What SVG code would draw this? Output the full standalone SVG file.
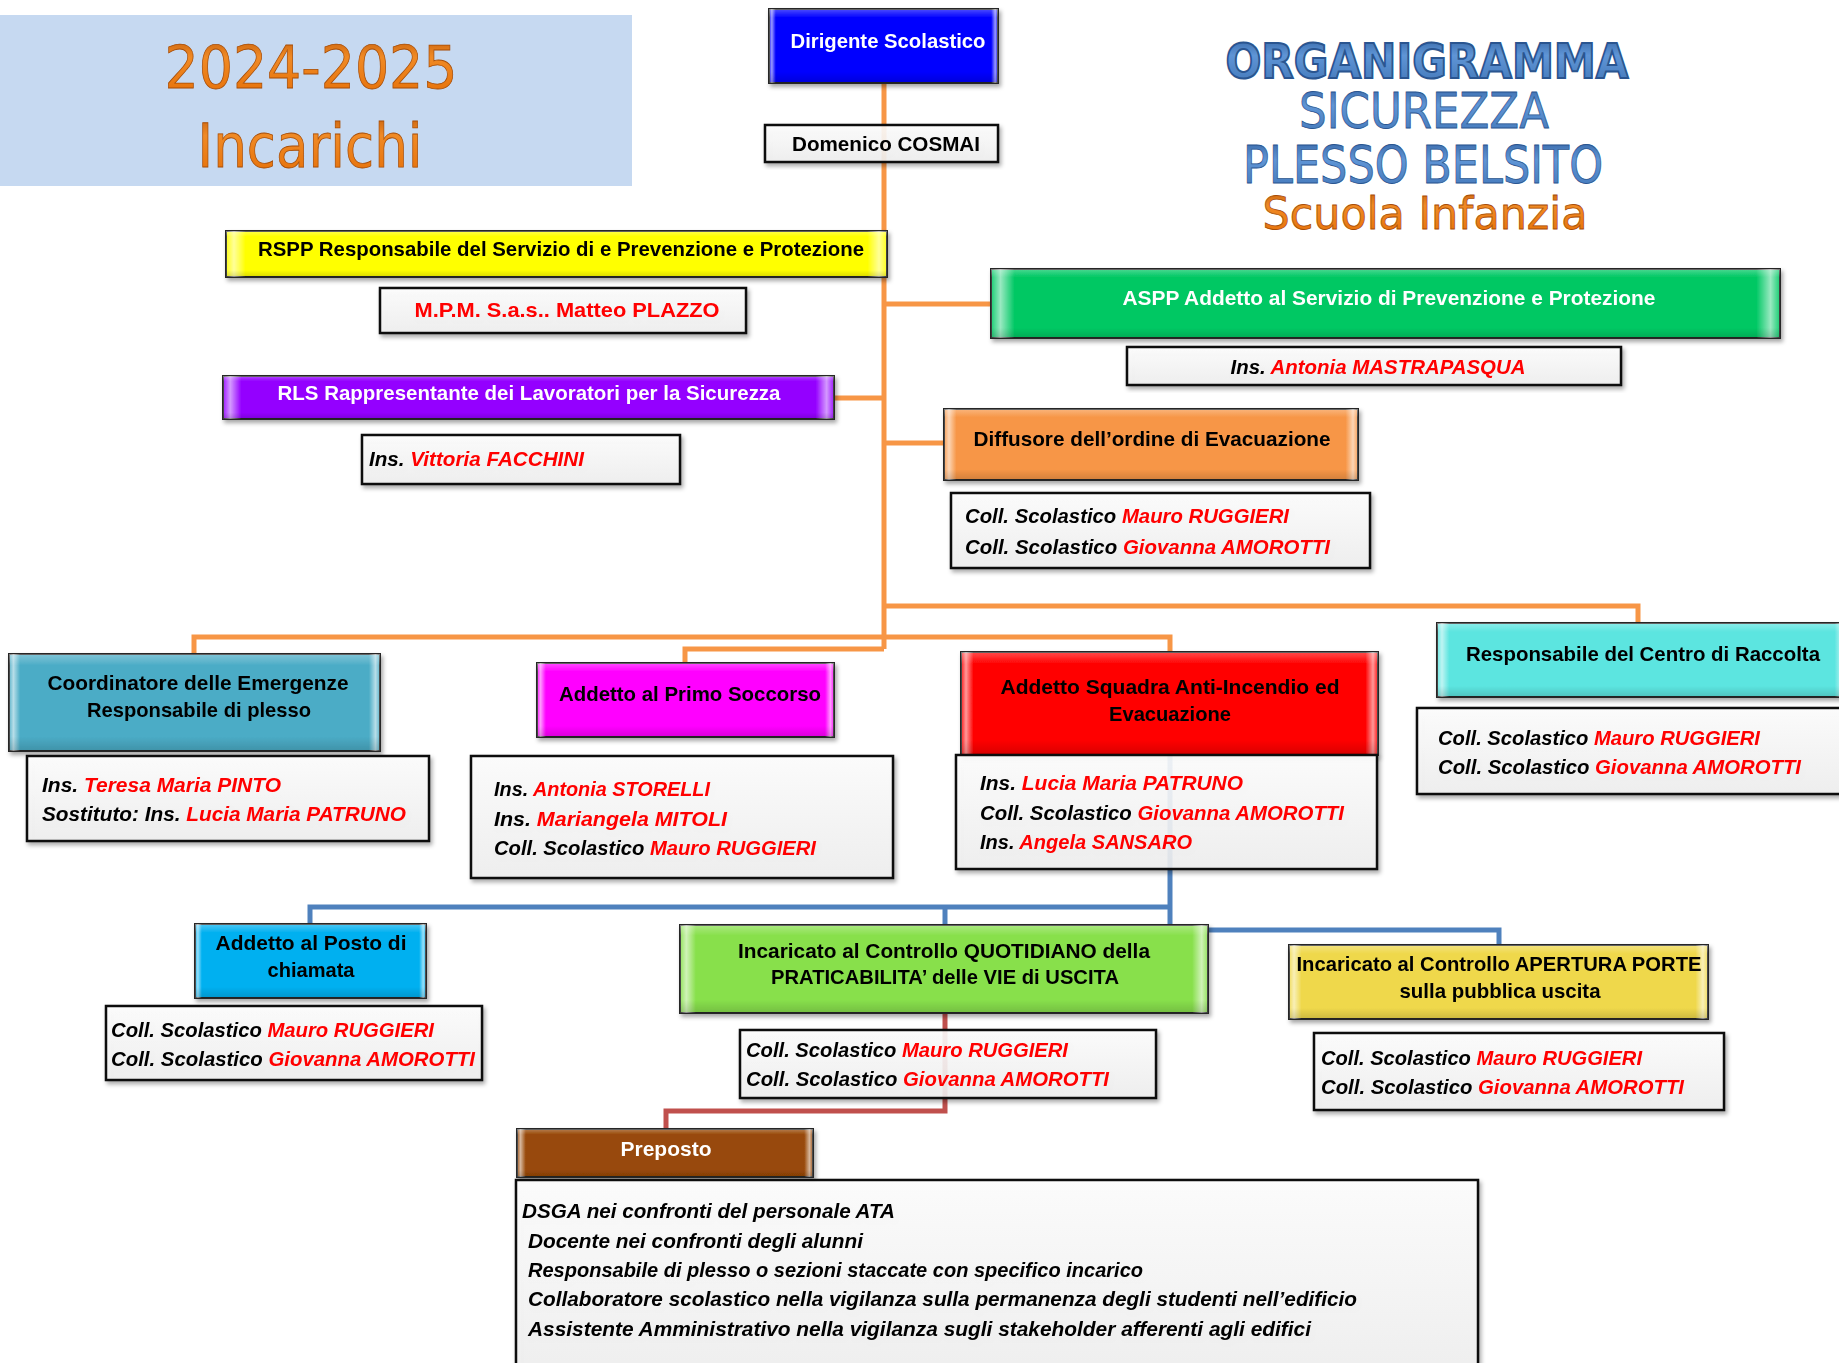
<svg xmlns="http://www.w3.org/2000/svg" width="1839" height="1363" viewBox="0 0 1839 1363">
<defs>
<filter id="sh" x="-5%" y="-10%" width="112%" height="130%">
<feDropShadow dx="2" dy="3" stdDeviation="2" flood-color="#000" flood-opacity="0.35"/>
</filter>
<linearGradient id="bh" x1="0" y1="0" x2="1" y2="0">
<stop offset="0" stop-color="#fff" stop-opacity="0.1"/>
<stop offset="0.012" stop-color="#fff" stop-opacity="0.6"/>
<stop offset="0.03" stop-color="#fff" stop-opacity="0"/>
<stop offset="0.97" stop-color="#fff" stop-opacity="0"/>
<stop offset="0.988" stop-color="#fff" stop-opacity="0.6"/>
<stop offset="1" stop-color="#fff" stop-opacity="0.1"/>
</linearGradient>
<linearGradient id="bv" x1="0" y1="0" x2="0" y2="1">
<stop offset="0" stop-color="#fff" stop-opacity="0.3"/>
<stop offset="0.12" stop-color="#fff" stop-opacity="0"/>
<stop offset="0.85" stop-color="#000" stop-opacity="0"/>
<stop offset="1" stop-color="#000" stop-opacity="0.15"/>
</linearGradient>
<linearGradient id="paper" x1="0" y1="0" x2="0" y2="1">
<stop offset="0" stop-color="#fff"/>
<stop offset="1" stop-color="#f0f0f0"/>
</linearGradient>
<linearGradient id="org" x1="0" y1="0" x2="0" y2="1">
<stop offset="0" stop-color="#c05a08"/>
<stop offset="0.35" stop-color="#f08a25"/>
<stop offset="0.8" stop-color="#e8760f"/>
<stop offset="1" stop-color="#a84d06"/>
</linearGradient>
<linearGradient id="blu" x1="0" y1="0" x2="0" y2="1">
<stop offset="0" stop-color="#2f5e9e"/>
<stop offset="0.4" stop-color="#5f95d6"/>
<stop offset="0.8" stop-color="#4a7fc0"/>
<stop offset="1" stop-color="#2c5a96"/>
</linearGradient>
<style>
.t{font-family:"Liberation Sans",Arial,sans-serif;font-weight:bold;font-size:21px;fill:#000}
.c{text-anchor:middle}
.i{font-style:italic}
.r{fill:#ff0000}
.w{fill:#fff}
.bx{stroke:#262626;stroke-width:2}
.pp{fill:url(#paper);fill-opacity:0.88;stroke:#111;stroke-width:2.5}
.ov1{fill:url(#bh)}
.ov2{fill:url(#bv)}
.co{fill:none;stroke-width:5;stroke-linejoin:miter}
.or{stroke:#f79646}
.bl{stroke:#4f81bd}
.rd{stroke:#c0504d}
.ttl{font-family:"DejaVu Sans",Verdana,sans-serif;text-anchor:middle}
.ob{stroke:#a84d06;stroke-width:0.8}
.bb{stroke:#2a5590;stroke-width:0.8}
</style>
</defs>
<rect width="1839" height="1363" fill="#fff"/>

<g id="title-year">
<rect x="0" y="15" width="632" height="171" fill="#c6d9f1"/>
<text class="ttl ob" x="311" y="88" font-size="59" fill="url(#org)" textLength="293" lengthAdjust="spacingAndGlyphs">2024-2025</text>
<text class="ttl ob" x="310" y="167" font-size="60" fill="url(#org)" textLength="225" lengthAdjust="spacingAndGlyphs">Incarichi</text>
</g>

<g id="title-main">
<text class="ttl" x="1427" y="78" font-size="48" font-weight="bold" fill="url(#blu)" stroke="#2a5590" stroke-width="2" textLength="403" lengthAdjust="spacingAndGlyphs">ORGANIGRAMMA</text>
<text class="ttl bb" x="1424" y="128" font-size="50" fill="url(#blu)" textLength="250" lengthAdjust="spacingAndGlyphs">SICUREZZA</text>
<text class="ttl bb" x="1423" y="183" font-size="51" fill="url(#blu)" textLength="360" lengthAdjust="spacingAndGlyphs">PLESSO BELSITO</text>
<text class="ttl ob" x="1425" y="229" font-size="45" fill="url(#org)" textLength="325" lengthAdjust="spacingAndGlyphs">Scuola Infanzia</text>
</g>

<g id="connectors">
<path class="co or" d="M884 83 V649"/>
<path class="co or" d="M884 304 H991"/>
<path class="co or" d="M834 398 H884"/>
<path class="co or" d="M884 443 H944"/>
<path class="co or" d="M884 606 H1638 V623"/>
<path class="co or" d="M194 654 V637 H1170 V652"/>
<path class="co or" d="M884 649 H685 V663"/>
<path class="co bl" d="M1170 755 V930 H1499 V945"/>
<path class="co bl" d="M310 924 V907 H1170"/>
<path class="co bl" d="M945 907 V925"/>
<path class="co rd" d="M945 1013 V1111 H666 V1129"/>
</g>

<g id="dirigente" filter="url(#sh)">
<rect class="bx" x="769" y="9" width="229" height="74" fill="#0000ff"/>
<rect class="ov1" x="769" y="9" width="229" height="74"/><rect class="ov2" x="769" y="9" width="229" height="74"/>
<text class="t c w" x="888" y="48" textLength="195" lengthAdjust="spacingAndGlyphs">Dirigente Scolastico</text>
</g>
<g id="dirigente-nome" filter="url(#sh)">
<rect class="pp" x="765" y="125" width="233" height="37"/>
<text class="t c" x="886" y="151" font-size="22" textLength="188" lengthAdjust="spacingAndGlyphs">Domenico COSMAI</text>
</g>

<g id="rspp" filter="url(#sh)">
<rect class="bx" x="226" y="231" width="661" height="46" fill="#ffff00"/>
<rect class="ov1" x="226" y="231" width="661" height="46"/><rect class="ov2" x="226" y="231" width="661" height="46"/>
<text class="t c" x="561" y="256" textLength="606" lengthAdjust="spacingAndGlyphs">RSPP Responsabile del Servizio di e Prevenzione e Protezione</text>
</g>
<g id="rspp-nome" filter="url(#sh)">
<rect class="pp" x="380" y="288" width="366" height="45"/>
<text class="t c r" x="567" y="317" textLength="305" lengthAdjust="spacingAndGlyphs">M.P.M.  S.a.s.. Matteo PLAZZO</text>
</g>

<g id="aspp" filter="url(#sh)">
<rect class="bx" x="991" y="269" width="789" height="69" fill="#00c864"/>
<rect class="ov1" x="991" y="269" width="789" height="69"/><rect class="ov2" x="991" y="269" width="789" height="69"/>
<text class="t c w" x="1389" y="305" textLength="533" lengthAdjust="spacingAndGlyphs">ASPP Addetto  al Servizio di Prevenzione e Protezione</text>
</g>
<g id="aspp-nome" filter="url(#sh)">
<rect class="pp" x="1127" y="347" width="494" height="38"/>
<text class="t c i" x="1378" y="374" textLength="295" lengthAdjust="spacingAndGlyphs">Ins. <tspan class="r">Antonia MASTRAPASQUA</tspan></text>
</g>

<g id="rls" filter="url(#sh)">
<rect class="bx" x="223" y="376" width="611" height="43" fill="#9400ff"/>
<rect class="ov1" x="223" y="376" width="611" height="43"/><rect class="ov2" x="223" y="376" width="611" height="43"/>
<text class="t c w" x="529" y="400" textLength="503" lengthAdjust="spacingAndGlyphs">RLS Rappresentante dei Lavoratori per la Sicurezza</text>
</g>
<g id="rls-nome" filter="url(#sh)">
<rect class="pp" x="362" y="435" width="318" height="49"/>
<text class="t i" x="369" y="466" textLength="215" lengthAdjust="spacingAndGlyphs">Ins. <tspan class="r">Vittoria FACCHINI</tspan></text>
</g>

<g id="diffusore" filter="url(#sh)">
<rect class="bx" x="944" y="409" width="414" height="71" fill="#f79646"/>
<rect class="ov1" x="944" y="409" width="414" height="71"/><rect class="ov2" x="944" y="409" width="414" height="71"/>
<text class="t c" x="1152" y="446" textLength="357" lengthAdjust="spacingAndGlyphs">Diffusore dell’ordine di Evacuazione</text>
</g>
<g id="diffusore-nomi" filter="url(#sh)">
<rect class="pp" x="951" y="493" width="419" height="75"/>
<text class="t i" x="965" y="523" textLength="324" lengthAdjust="spacingAndGlyphs">Coll. Scolastico <tspan class="r">Mauro RUGGIERI</tspan></text>
<text class="t i" x="965" y="554" textLength="365" lengthAdjust="spacingAndGlyphs">Coll. Scolastico <tspan class="r">Giovanna AMOROTTI</tspan></text>
</g>

<g id="coordinatore" filter="url(#sh)">
<rect class="bx" x="9" y="654" width="371" height="97" fill="#4bacc6"/>
<rect class="ov1" x="9" y="654" width="371" height="97"/><rect class="ov2" x="9" y="654" width="371" height="97"/>
<text class="t c" x="198" y="690" textLength="301" lengthAdjust="spacingAndGlyphs">Coordinatore delle Emergenze</text>
<text class="t c" x="199" y="717" textLength="224" lengthAdjust="spacingAndGlyphs">Responsabile di plesso</text>
</g>
<g id="coordinatore-nomi" filter="url(#sh)">
<rect class="pp" x="27" y="756" width="402" height="85"/>
<text class="t i" x="42" y="792" textLength="239" lengthAdjust="spacingAndGlyphs">Ins. <tspan class="r">Teresa Maria PINTO</tspan></text>
<text class="t i" x="42" y="821" textLength="364" lengthAdjust="spacingAndGlyphs">Sostituto: Ins. <tspan class="r">Lucia Maria PATRUNO</tspan></text>
</g>

<g id="primo-soccorso" filter="url(#sh)">
<rect class="bx" x="537" y="663" width="297" height="74" fill="#ff00ff"/>
<rect class="ov1" x="537" y="663" width="297" height="74"/><rect class="ov2" x="537" y="663" width="297" height="74"/>
<text class="t c" x="690" y="701" textLength="262" lengthAdjust="spacingAndGlyphs">Addetto al Primo Soccorso</text>
</g>
<g id="primo-soccorso-nomi" filter="url(#sh)">
<rect class="pp" x="471" y="756" width="422" height="122"/>
<text class="t i" x="494" y="796" textLength="216" lengthAdjust="spacingAndGlyphs">Ins. <tspan class="r">Antonia STORELLI</tspan></text>
<text class="t i" x="494" y="826" textLength="233" lengthAdjust="spacingAndGlyphs">Ins. <tspan class="r">Mariangela MITOLI</tspan></text>
<text class="t i" x="494" y="855" textLength="322" lengthAdjust="spacingAndGlyphs">Coll. Scolastico <tspan class="r">Mauro RUGGIERI</tspan></text>
</g>

<g id="squadra" filter="url(#sh)">
<rect class="bx" x="961" y="652" width="417" height="103" fill="#ff0000"/>
<rect class="ov1" x="961" y="652" width="417" height="103"/><rect class="ov2" x="961" y="652" width="417" height="103"/>
<text class="t c" x="1170" y="694" textLength="339" lengthAdjust="spacingAndGlyphs">Addetto Squadra Anti-Incendio ed</text>
<text class="t c" x="1170" y="721" textLength="122" lengthAdjust="spacingAndGlyphs">Evacuazione</text>
</g>
<g id="squadra-nomi" filter="url(#sh)">
<rect class="pp" x="956" y="755" width="421" height="114"/>
<text class="t i" x="980" y="790" textLength="263" lengthAdjust="spacingAndGlyphs">Ins. <tspan class="r">Lucia Maria PATRUNO</tspan></text>
<text class="t i" x="980" y="820" textLength="364" lengthAdjust="spacingAndGlyphs">Coll. Scolastico <tspan class="r">Giovanna AMOROTTI</tspan></text>
<text class="t i" x="980" y="849" textLength="212" lengthAdjust="spacingAndGlyphs">Ins. <tspan class="r">Angela SANSARO</tspan></text>
</g>

<g id="raccolta" filter="url(#sh)">
<rect class="bx" x="1437" y="623" width="410" height="74" fill="#5ce5e0"/>
<rect class="ov1" x="1437" y="623" width="410" height="74"/><rect class="ov2" x="1437" y="623" width="410" height="74"/>
<text class="t c" x="1643" y="661" textLength="354" lengthAdjust="spacingAndGlyphs">Responsabile del Centro di Raccolta</text>
</g>
<g id="raccolta-nomi" filter="url(#sh)">
<rect class="pp" x="1417" y="708" width="430" height="86"/>
<text class="t i" x="1438" y="745" textLength="322" lengthAdjust="spacingAndGlyphs">Coll. Scolastico <tspan class="r">Mauro RUGGIERI</tspan></text>
<text class="t i" x="1438" y="774" textLength="363" lengthAdjust="spacingAndGlyphs">Coll. Scolastico <tspan class="r">Giovanna AMOROTTI</tspan></text>
</g>

<g id="posto-chiamata" filter="url(#sh)">
<rect class="bx" x="195" y="924" width="231" height="74" fill="#00b0f0"/>
<rect class="ov1" x="195" y="924" width="231" height="74"/><rect class="ov2" x="195" y="924" width="231" height="74"/>
<text class="t c" x="311" y="950" textLength="191" lengthAdjust="spacingAndGlyphs">Addetto al Posto di</text>
<text class="t c" x="311" y="977" textLength="87" lengthAdjust="spacingAndGlyphs">chiamata</text>
</g>
<g id="posto-chiamata-nomi" filter="url(#sh)">
<rect class="pp" x="106" y="1006" width="376" height="74"/>
<text class="t i" x="111" y="1037" textLength="323" lengthAdjust="spacingAndGlyphs">Coll. Scolastico <tspan class="r">Mauro RUGGIERI</tspan></text>
<text class="t i" x="111" y="1066" textLength="364" lengthAdjust="spacingAndGlyphs">Coll. Scolastico <tspan class="r">Giovanna AMOROTTI</tspan></text>
</g>

<g id="quotidiano" filter="url(#sh)">
<rect class="bx" x="680" y="925" width="528" height="88" fill="#88e04c"/>
<rect class="ov1" x="680" y="925" width="528" height="88"/><rect class="ov2" x="680" y="925" width="528" height="88"/>
<text class="t c" x="944" y="958" textLength="412" lengthAdjust="spacingAndGlyphs">Incaricato al Controllo QUOTIDIANO della</text>
<text class="t c" x="945" y="984" textLength="348" lengthAdjust="spacingAndGlyphs">PRATICABILITA’ delle VIE di USCITA</text>
</g>
<g id="quotidiano-nomi" filter="url(#sh)">
<rect class="pp" x="740" y="1030" width="416" height="68"/>
<text class="t i" x="746" y="1057" textLength="322" lengthAdjust="spacingAndGlyphs">Coll. Scolastico <tspan class="r">Mauro RUGGIERI</tspan></text>
<text class="t i" x="746" y="1086" textLength="363" lengthAdjust="spacingAndGlyphs">Coll. Scolastico <tspan class="r">Giovanna AMOROTTI</tspan></text>
</g>

<g id="apertura" filter="url(#sh)">
<rect class="bx" x="1289" y="945" width="419" height="74" fill="#efd84b"/>
<rect class="ov1" x="1289" y="945" width="419" height="74"/><rect class="ov2" x="1289" y="945" width="419" height="74"/>
<text class="t c" x="1499" y="971" textLength="405" lengthAdjust="spacingAndGlyphs">Incaricato al Controllo APERTURA PORTE</text>
<text class="t c" x="1500" y="998" textLength="201" lengthAdjust="spacingAndGlyphs">sulla pubblica uscita</text>
</g>
<g id="apertura-nomi" filter="url(#sh)">
<rect class="pp" x="1314" y="1033" width="410" height="77"/>
<text class="t i" x="1321" y="1065" textLength="321" lengthAdjust="spacingAndGlyphs">Coll. Scolastico <tspan class="r">Mauro RUGGIERI</tspan></text>
<text class="t i" x="1321" y="1094" textLength="363" lengthAdjust="spacingAndGlyphs">Coll. Scolastico <tspan class="r">Giovanna AMOROTTI</tspan></text>
</g>

<g id="preposto" filter="url(#sh)">
<rect class="bx" x="517" y="1129" width="296" height="48" fill="#984807"/>
<rect class="ov1" x="517" y="1129" width="296" height="48"/><rect class="ov2" x="517" y="1129" width="296" height="48"/>
<text class="t c w" x="666" y="1156" textLength="91" lengthAdjust="spacingAndGlyphs">Preposto</text>
</g>
<g id="preposto-nomi" filter="url(#sh)">
<rect class="pp" x="516" y="1180" width="962" height="200"/>
<text class="t i" x="522" y="1218" textLength="373" lengthAdjust="spacingAndGlyphs">DSGA nei confronti del personale ATA</text>
<text class="t i" x="528" y="1248" textLength="335" lengthAdjust="spacingAndGlyphs">Docente nei confronti degli alunni</text>
<text class="t i" x="528" y="1277" textLength="615" lengthAdjust="spacingAndGlyphs">Responsabile di plesso o sezioni staccate con specifico incarico</text>
<text class="t i" x="528" y="1306" textLength="829" lengthAdjust="spacingAndGlyphs">Collaboratore scolastico nella vigilanza sulla permanenza degli studenti nell’edificio</text>
<text class="t i" x="528" y="1336" textLength="783" lengthAdjust="spacingAndGlyphs">Assistente Amministrativo nella vigilanza sugli stakeholder afferenti agli edifici</text>
</g>
</svg>
